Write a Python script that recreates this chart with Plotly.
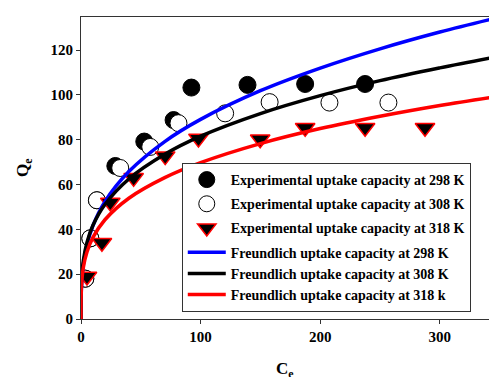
import plotly.graph_objects as go

# Experimental data
C298 = [3.6, 7.8, 13.3, 28.7, 52.9, 77.4, 92.3, 139.2, 187.4, 237.5]
Q298 = [18, 36, 53, 68.3, 79.2, 88.8, 103.3, 104.5, 104.9, 104.9]
C308 = [3.6, 7.8, 13.3, 32.8, 57.9, 81.5, 120.5, 157.7, 207.7, 257.0]
Q308 = [18, 36, 53, 67.4, 76.8, 87.4, 91.8, 96.8, 96.6, 96.6]
C318 = [5.0, 17.5, 24.5, 44.0, 70.4, 98.2, 149.8, 187.4, 237.5, 287.6]
Q318 = [19, 34, 52, 63, 72.7, 80.6, 80.2, 85.4, 85.4, 85.4]

# Freundlich fitted curves
C_fit = [0, 0.1, 0.5, 2, 5, 10, 20, 40, 70, 100, 150, 200, 250, 300, 345]
Q_fit298 = [0, 9.1, 15.5, 24.5, 33.2, 41.7, 52.4, 65.8, 79.2, 89.1, 101.9, 112.0, 120.6, 128.1, 134.1]
Q_fit308 = [0, 11.0, 17.5, 26.2, 34.2, 41.8, 51.1, 62.5, 73.5, 81.6, 91.7, 99.7, 106.4, 112.1, 116.8]
Q_fit318 = [0, 9.9, 15.6, 23.1, 29.9, 36.4, 44.3, 53.9, 63.1, 69.8, 78.3, 85.0, 90.5, 95.3, 99.1]

x_ticks = [0, 100, 200, 300]
y_ticks = [0, 20, 40, 60, 80, 100, 120]
x_title = "<b>C<sub>e</sub></b>"
y_title = "<b>Q<sub>e</sub></b>"

FONT = "Liberation Serif"

fig = go.Figure()
fig.add_trace(go.Scatter(x=C298, y=Q298, mode="markers", legendgroup="g1",
                         name="<b>Experimental uptake capacity at 298 K</b>",
                         marker=dict(symbol="circle", size=17, color="black",
                                     line=dict(color="black", width=1))))
fig.add_trace(go.Scatter(x=C308, y=Q308, mode="markers", legendgroup="g2",
                         name="<b>Experimental uptake capacity at 308 K</b>",
                         marker=dict(symbol="circle", size=17, color="white",
                                     line=dict(color="black", width=1))))
fig.add_trace(go.Scatter(x=C318, y=Q318, mode="markers", legendgroup="g3",
                         name="<b>Experimental uptake capacity at 318 K</b>",
                         marker=dict(symbol="triangle-down", size=17, color="black",
                                     line=dict(color="red", width=1.5))))
fig.add_trace(go.Scatter(x=C_fit, y=Q_fit298, mode="lines", legendgroup="g4",
                         line_shape="spline",
                         name="<b>Freundlich uptake capacity at 298 K</b>",
                         line=dict(color="#0000ff", width=3.5)))
fig.add_trace(go.Scatter(x=C_fit, y=Q_fit308, mode="lines", legendgroup="g4",
                         line_shape="spline",
                         name="<b>Freundlich uptake capacity at 308 K</b>",
                         line=dict(color="black", width=3.5)))
fig.add_trace(go.Scatter(x=C_fit, y=Q_fit318, mode="lines", legendgroup="g4",
                         line_shape="spline",
                         name="<b>Freundlich uptake capacity at 318 k</b>",
                         line=dict(color="#ff0000", width=3.5)))

fig.update_layout(
    width=489, height=377,
    margin=dict(l=81, r=0, t=17, b=58),
    paper_bgcolor="white", plot_bgcolor="white",
    font=dict(family=FONT, color="black"),
    showlegend=True,
    legend=dict(x=0.247, y=0.5166, xanchor="left", yanchor="top",
                bgcolor="white", bordercolor="#333333", borderwidth=1,
                font=dict(family=FONT, size=14, color="black"),
                tracegroupgap=3, itemwidth=38, traceorder="grouped"),
    xaxis=dict(range=[0, 341.1], tickvals=x_ticks, ticktext=[f"<b>{v}</b>" for v in x_ticks],
               showline=True, linecolor="#333333", linewidth=1, mirror=True,
               ticks="outside", ticklen=4, tickcolor="#333333",
               showgrid=False, zeroline=False,
               tickfont=dict(family=FONT, size=15, color="black")),
    yaxis=dict(range=[0, 134.8], tickvals=y_ticks, ticktext=[f"<b>{v}</b>" for v in y_ticks],
               showline=True, linecolor="#333333", linewidth=1,
               ticks="outside", ticklen=4, tickcolor="#333333",
               showgrid=False, zeroline=False,
               tickfont=dict(family=FONT, size=15, color="black")),
    annotations=[
        dict(text=x_title, xref="paper", yref="paper", x=0.5, y=-0.127,
             xanchor="center", yanchor="top", showarrow=False,
             font=dict(family=FONT, size=17, color="black")),
        dict(text=y_title, xref="paper", yref="paper", x=-0.1397, y=0.5,
             xanchor="center", yanchor="middle", showarrow=False, textangle=-90,
             font=dict(family=FONT, size=17, color="black")),
    ],
)

fig.write_html("out.html")
